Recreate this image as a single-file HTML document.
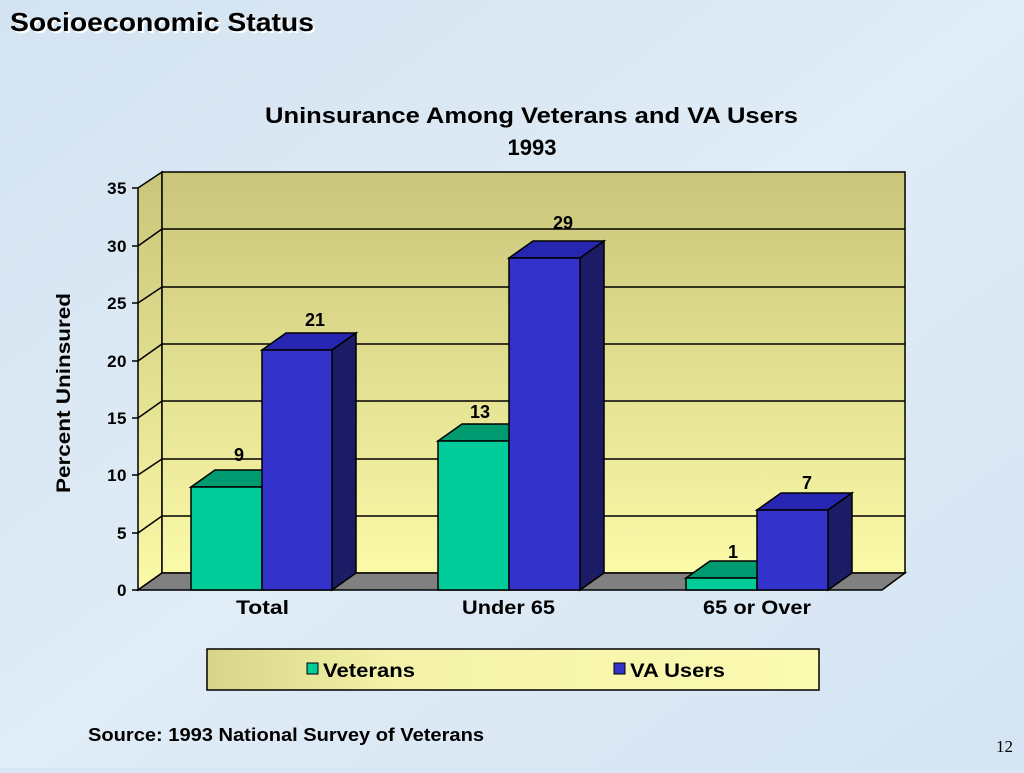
<!DOCTYPE html>
<html><head><style>
html,body{margin:0;padding:0;}
body{width:1024px;height:768px;overflow:hidden;background:#d9e7f3;font-family:"Liberation Sans",sans-serif;}
</style></head><body>
<svg width="1024" height="768" xmlns="http://www.w3.org/2000/svg" font-family="Liberation Sans, sans-serif">
<defs>
<linearGradient id="wall" x1="0" y1="0" x2="0" y2="1">
<stop offset="0" stop-color="#c9c57a"/><stop offset="1" stop-color="#fbfaa8"/></linearGradient>
<linearGradient id="bg" x1="0" y1="0" x2="1" y2="1">
<stop offset="0" stop-color="#d3e3f1"/><stop offset="0.5" stop-color="#e0ecf6"/><stop offset="1" stop-color="#d4e4f2"/></linearGradient>
<linearGradient id="leg" x1="0" y1="0" x2="1" y2="0">
<stop offset="0" stop-color="#d8d488"/><stop offset="0.3" stop-color="#f3f2a8"/><stop offset="1" stop-color="#fbfab0"/></linearGradient>
</defs>
<rect width="1024" height="768" fill="url(#bg)"/>
<text x="12" y="33" font-size="26" font-weight="bold" fill="#fff" textLength="304" lengthAdjust="spacingAndGlyphs">Socioeconomic Status</text>
<text x="10" y="31" font-size="26" font-weight="bold" fill="#000" textLength="304" lengthAdjust="spacingAndGlyphs">Socioeconomic Status</text>
<text x="265" y="123" font-size="22" font-weight="bold" textLength="533" lengthAdjust="spacingAndGlyphs">Uninsurance Among Veterans and VA Users</text>
<text x="532" y="155" font-size="22" font-weight="bold" text-anchor="middle">1993</text>
<polygon points="138,188 162,172 162,573 138,590" fill="url(#wall)" stroke="#000" stroke-width="1.5"/>
<rect x="162" y="172" width="743" height="401" fill="url(#wall)" stroke="#000" stroke-width="1.5"/>
<g stroke="#000" stroke-width="1.5">
<line x1="162" y1="516" x2="905" y2="516"/><line x1="162" y1="459" x2="905" y2="459"/>
<line x1="162" y1="401" x2="905" y2="401"/><line x1="162" y1="344" x2="905" y2="344"/>
<line x1="162" y1="287" x2="905" y2="287"/><line x1="162" y1="229" x2="905" y2="229"/>
<line x1="138" y1="533" x2="162" y2="516"/><line x1="138" y1="475" x2="162" y2="459"/>
<line x1="138" y1="418" x2="162" y2="401"/><line x1="138" y1="361" x2="162" y2="344"/>
<line x1="138" y1="303" x2="162" y2="287"/><line x1="138" y1="246" x2="162" y2="229"/>
</g>
<polygon points="138,590 162,573 905,573 882,590" fill="#808080" stroke="#000" stroke-width="1.5"/>
<g stroke="#000" stroke-width="1.5">
<line x1="132" y1="590" x2="138" y2="590"/><line x1="132" y1="533" x2="138" y2="533"/>
<line x1="132" y1="475" x2="138" y2="475"/><line x1="132" y1="418" x2="138" y2="418"/>
<line x1="132" y1="361" x2="138" y2="361"/><line x1="132" y1="303" x2="138" y2="303"/>
<line x1="132" y1="246" x2="138" y2="246"/><line x1="132" y1="188" x2="138" y2="188"/>
</g>
<g font-size="17" font-weight="bold" text-anchor="end" letter-spacing="0.5">
<text x="127" y="596">0</text><text x="127" y="539">5</text><text x="127" y="481">10</text>
<text x="127" y="424">15</text><text x="127" y="367">20</text><text x="127" y="309">25</text>
<text x="127" y="252">30</text><text x="127" y="194">35</text></g>
<text transform="translate(70,493) rotate(-90)" font-size="19" font-weight="bold" textLength="200" lengthAdjust="spacingAndGlyphs">Percent Uninsured</text>
<g stroke="#000" stroke-width="1.5">
<polygon points="191,487 215,470 286,470 262,487" fill="#009a70"/>
<rect x="191" y="487" width="71" height="103" fill="#00cc99"/>
<polygon points="262,350 286,333 356,333 332,350" fill="#2626b0"/>
<polygon points="332,350 356,333 356,573 332,590" fill="#1c1c66"/>
<rect x="262" y="350" width="70" height="240" fill="#3333cc"/>
<polygon points="438,441 462,424 533,424 509,441" fill="#009a70"/>
<rect x="438" y="441" width="71" height="149" fill="#00cc99"/>
<polygon points="509,258 533,241 604,241 580,258" fill="#2626b0"/>
<polygon points="580,258 604,241 604,573 580,590" fill="#1c1c66"/>
<rect x="509" y="258" width="71" height="332" fill="#3333cc"/>
<polygon points="686,578 710,561 781,561 757,578" fill="#009a70"/>
<rect x="686" y="578" width="71" height="12" fill="#00cc99"/>
<polygon points="757,510 781,493 852,493 828,510" fill="#2626b0"/>
<polygon points="828,510 852,493 852,573 828,590" fill="#1c1c66"/>
<rect x="757" y="510" width="71" height="80" fill="#3333cc"/>
</g>
<g font-size="18" font-weight="bold" text-anchor="middle">
<text x="239" y="461">9</text><text x="315" y="326">21</text>
<text x="480" y="418">13</text><text x="563" y="229">29</text>
<text x="733" y="558">1</text><text x="807" y="489">7</text>
</g>
<g font-size="19" font-weight="bold" lengthAdjust="spacingAndGlyphs">
<text x="236" y="614" textLength="53" lengthAdjust="spacingAndGlyphs">Total</text>
<text x="462" y="614" textLength="93" lengthAdjust="spacingAndGlyphs">Under 65</text>
<text x="703" y="614" textLength="108" lengthAdjust="spacingAndGlyphs">65 or Over</text></g>
<rect x="207" y="649" width="612" height="41" fill="url(#leg)" stroke="#000" stroke-width="1.5"/>
<rect x="307" y="663" width="11" height="11" fill="#00cc99" stroke="#000"/>
<text x="323" y="677" font-size="19" font-weight="bold" textLength="92" lengthAdjust="spacingAndGlyphs">Veterans</text>
<rect x="614" y="663" width="11" height="11" fill="#3333cc" stroke="#000"/>
<text x="630" y="677" font-size="19" font-weight="bold" textLength="95" lengthAdjust="spacingAndGlyphs">VA Users</text>
<text x="88" y="741" font-size="18" font-weight="bold" textLength="396" lengthAdjust="spacingAndGlyphs">Source:  1993 National Survey of Veterans</text>
<text x="1013" y="752" font-size="17" font-family="Liberation Serif, serif" text-anchor="end">12</text>
</svg>
</body></html>
